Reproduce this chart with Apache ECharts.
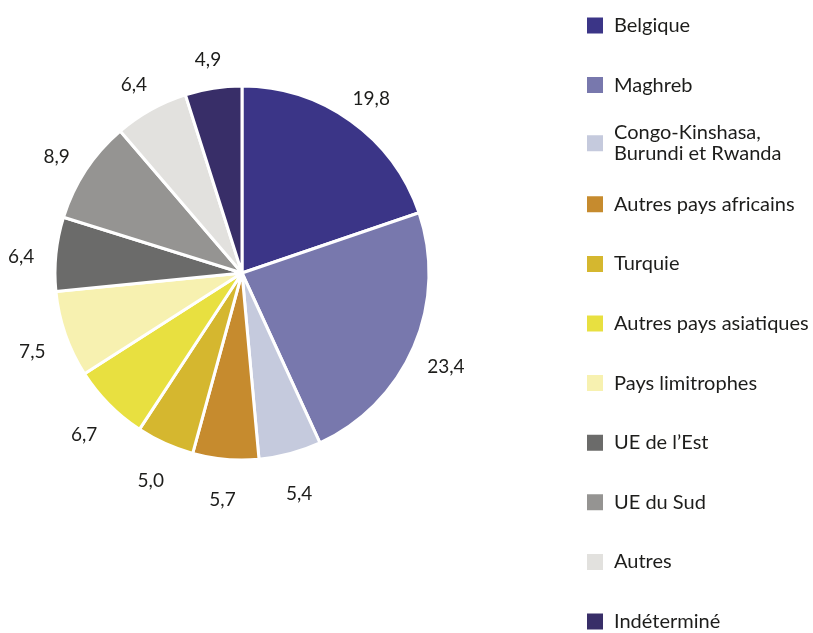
<!DOCTYPE html>
<html>
<head>
<meta charset="utf-8">
<script src="https://cdn.jsdelivr.net/npm/echarts@6/dist/echarts.min.js"></script>
<style>
  html, body { margin: 0; padding: 0; background: #fff; }
  #chart { width: 813px; height: 633px; }
</style>
</head>
<body>
<div id="chart"></div>
<script>
// données
const categories = [
  "Belgique",
  "Maghreb",
  "Congo-Kinshasa, Burundi et Rwanda",
  "Autres pays africains",
  "Turquie",
  "Autres pays asiatiques",
  "Pays limitrophes",
  "UE de l\u2019Est",
  "UE du Sud",
  "Autres",
  "Indéterminé"
]
const values = [19.8, 23.4, 5.4, 5.7, 5.0, 6.7, 7.5, 6.4, 8.9, 6.4, 4.9]
const colors = [
  "#3b3587", "#7878ad", "#c5cadd", "#c68b2e", "#d5b72f", "#e8e040",
  "#f7f1b0", "#6b6b6a", "#959492", "#e2e1de", "#382e68"
]

const FONT = "Lato, 'DejaVu Sans', sans-serif"
const CX = 242, CY = 273, R = 187
const LABEL_DIST = 222 // distance du centre au centre du libellé
const LABEL_DY = 6

const chart = echarts.init(document.getElementById("chart"))

// une légende par entrée pour garder un pas régulier
const legendTop0 = 15, legendStep = 59.6
const legends = categories.map((name, i) => {
  const twoLines = name.indexOf("Congo") === 0
  return {
    data: [name],
    orient: "vertical",
    left: 585,
    top: legendTop0 + i * legendStep - (twoLines ? 12 : 0),
    padding: 0,
    itemWidth: 18,
    itemHeight: 18,
    icon: "rect",
    selectedMode: false,
    formatter: n => (n.indexOf("Congo") === 0 ? "Congo-Kinshasa,\nBurundi et Rwanda" : n),
    textStyle: {
      fontFamily: FONT,
      fontSize: 20,
      color: "#1d1d1b",
      lineHeight: 21,
      padding: [0, 0, 0, 5]
    }
  }
})

const option = {
  backgroundColor: "#fff",
  animation: false,
  color: colors,
  legend: legends,
  series: [
    {
      type: "pie",
      center: [CX, CY],
      radius: [0, R],
      startAngle: 90,
      clockwise: true,
      avoidLabelOverlap: false,
      itemStyle: { borderColor: "#fff", borderWidth: 3 },
      label: {
        show: true,
        position: "outside",
        fontFamily: FONT,
        fontSize: 19,
        color: "#1d1d1b",
        formatter: p => p.value.toFixed(1).replace(".", ",")
      },
      labelLine: {
        show: true,
        length: 10,
        length2: 0,
        lineStyle: { opacity: 0 }
      },
      labelLayout: function (params) {
        const pts = params.labelLinePoints
        if (!pts || pts.length < 2) return {}
        const dx = pts[1][0] - pts[0][0]
        const dy = pts[1][1] - pts[0][1]
        const len = Math.sqrt(dx * dx + dy * dy) || 1
        const ux = dx / len, uy = dy / len
        const d = LABEL_DIST - R
        return {
          x: pts[0][0] + ux * d,
          y: pts[0][1] + uy * d + LABEL_DY,
          align: "center",
          verticalAlign: "middle"
        }
      },
      emphasis: { disabled: true },
      data: categories.map((name, i) => ({ name: name, value: values[i] }))
    }
  ]
}

chart.setOption(option)
</script>
</body>
</html>
